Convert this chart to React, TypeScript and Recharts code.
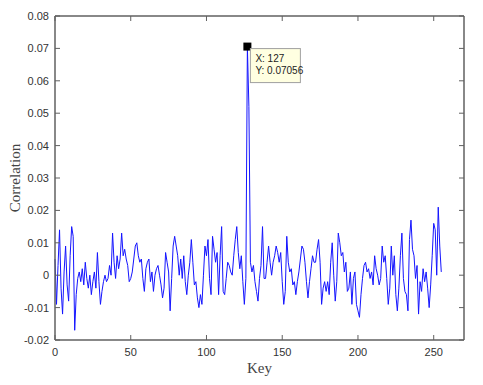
import { LineChart, Line, XAxis, YAxis, ReferenceDot } from "recharts";

// correlation for each key byte 0..255
const correlation = [
  0.005, -0.009, 0.003, 0.014, -0.004, -0.012, 0.001, 0.009, -0.003, -0.008, 0.006, 0.015, 0.012, -0.017, -0.006, -0.001,
  0.001, -0.002, 0.002, -0.003, 0.004, -0.001, -0.004, 0.0, -0.006, -0.002, 0.001, -0.004, 0.007, -0.002, -0.009, -0.005,
  -0.002, 0.0, -0.002, -0.001, 0.003, 0.0, 0.013, 0.004, -0.001, 0.006, 0.002, 0.005, 0.013, 0.006, 0.008, 0.005,
  0.003, -0.002, -0.001, 0.001, 0.005, 0.009, 0.01, 0.006, 0.004, 0.005, -0.001, -0.005, 0.002, 0.004, 0.005, -0.002,
  0.001, -0.005, 0.0, 0.002, 0.003, 0.0, -0.003, -0.007, -0.004, 0.007, 0.004, 0.001, -0.011, -0.001, 0.009, 0.012,
  0.009, 0.006, 0.0, 0.005, -0.001, 0.006, -0.002, -0.006, 0.0, 0.004, 0.011, 0.004, -0.003, -0.002, -0.007, -0.01,
  -0.006, -0.009, 0.0, 0.009, 0.006, 0.011, -0.001, -0.006, 0.012, 0.008, 0.004, 0.007, -0.006, 0.006, 0.015, -0.005,
  -0.006, -0.001, 0.004, 0.003, 0.001, 0.0, 0.006, 0.011, 0.015, 0.007, 0.002, 0.006, -0.002, -0.009, -0.001, 0.07056,
  0.052, 0.004, 0.001, 0.003, -0.002, -0.005, -0.008, -0.001, 0.003, 0.015, -0.001, -0.001, 0.004, 0.009, 0.004, 0.0,
  0.004, 0.006, 0.009, 0.007, 0.004, 0.007, -0.002, -0.009, -0.005, 0.012, 0.004, 0.001, 0.002, -0.003, -0.002, -0.006,
  -0.002, 0.001, 0.005, 0.009, 0.008, 0.004, -0.002, -0.007, -0.002, 0.002, 0.006, 0.004, 0.004, 0.008, 0.011, 0.004,
  -0.009, -0.004, -0.002, -0.005, -0.002, -0.006, 0.004, 0.01, 0.0, -0.008, -0.002, 0.013, 0.01, 0.006, 0.007, 0.001,
  0.004, -0.005, -0.004, 0.001, -0.009, -0.001, 0.001, -0.009, -0.011, -0.013, -0.006, -0.001, 0.003, 0.004, 0.001, 0.002,
  -0.001, 0.001, -0.003, 0.006, 0.002, 0.0, -0.003, -0.001, 0.009, 0.004, 0.006, -0.001, -0.009, -0.004, 0.009, 0.0,
  0.006, -0.006, -0.011, -0.004, 0.006, 0.013, -0.001, -0.005, -0.006, -0.011, 0.011, 0.017, 0.008, 0.006, -0.001, 0.003,
  -0.012, -0.002, -0.005, 0.002, -0.002, 0.001, -0.004, -0.01, -0.003, 0.006, 0.016, 0.014, 0.0, 0.021, 0.009, 0.001,
];

const keys = correlation.map((_, i) => i);

const xTicks = [0, 50, 100, 150, 200, 250];
const yTicks = [-0.02, -0.01, 0, 0.01, 0.02, 0.03, 0.04, 0.05, 0.06, 0.07, 0.08];

const peakKey = 127;
const peakValue = 0.07056;

const data = keys.map((k, i) => ({ key: k, value: correlation[i] }));

const axisColor = "#606060";
const sansFont = "Liberation Sans, Arial, sans-serif";
const labelFont = { fontSize: 15, fill: "#444", fontFamily: "Liberation Serif, Times New Roman, serif" };
const TICK = 5; // inward tick length
const GAP = 6;

const fmtY = (v: number) => (Math.abs(v) < 1e-9 ? "0" : v.toFixed(2));

// matlab style ticks: pointing into the plot, label outside
const LeftTick = (p: any) => {
  const ax = p.x + GAP;
  return (
    <g>
      <line x1={ax} x2={ax + TICK} y1={p.y} y2={p.y} stroke={axisColor} />
      <text x={p.x} y={p.y} dy={4} textAnchor="end" fontSize={11} fill="#333" fontFamily={sansFont}>
        {fmtY(p.payload.value)}
      </text>
    </g>
  );
};

const RightTick = (p: any) => {
  const ax = p.x - GAP;
  return <line x1={ax} x2={ax - TICK} y1={p.y} y2={p.y} stroke={axisColor} />;
};

const BottomTick = (p: any) => {
  const ay = p.y - GAP;
  return (
    <g>
      <line x1={p.x} x2={p.x} y1={ay} y2={ay - TICK} stroke={axisColor} />
      <text x={p.x} y={p.y} dy={10} textAnchor="middle" fontSize={11} fill="#333" fontFamily={sansFont}>
        {p.payload.value}
      </text>
    </g>
  );
};

const TopTick = (p: any) => {
  const ay = p.y + GAP;
  return <line x1={p.x} x2={p.x} y1={ay} y2={ay + TICK} stroke={axisColor} />;
};

// black datatip square + yellow box like matlab's data cursor
const DataTip = (props: any) => {
  const { cx, cy } = props;
  return (
    <g>
      <rect x={cx - 4} y={cy - 4} width={8} height={8} fill="#000" />
      <rect x={cx + 3} y={cy + 2} width={50} height={34} fill="#ffffe1" stroke="#a0a0a0" />
      <text x={cx + 8} y={cy + 15} fontSize={10} fill="#222" fontFamily={sansFont}>
        X: {peakKey}
      </text>
      <text x={cx + 8} y={cy + 27} fontSize={10} fill="#222" fontFamily={sansFont}>
        Y: {peakValue}
      </text>
    </g>
  );
};

export default function App() {
  return (
    <div style={{ position: "absolute", left: 0, top: 0, width: 483, height: 385, background: "#fff" }}>
      <LineChart width={483} height={385} data={data} margin={{ top: 15, right: 18, left: 0, bottom: 0 }}>
        <XAxis
          xAxisId="bottom"
          dataKey="key"
          type="number"
          domain={[0, 270]}
          ticks={xTicks}
          height={45}
          tick={<BottomTick />}
          tickSize={0}
          tickMargin={GAP}
          tickLine={false}
          axisLine={{ stroke: axisColor, strokeWidth: 1.5 }}
          label={{ value: "Key", position: "insideBottom", offset: 12, style: labelFont }}
        />
        <XAxis
          xAxisId="top"
          orientation="top"
          dataKey="key"
          type="number"
          domain={[0, 270]}
          ticks={xTicks}
          height={1}
          tick={<TopTick />}
          tickSize={0}
          tickMargin={GAP}
          tickLine={false}
          axisLine={{ stroke: axisColor, strokeWidth: 1.5 }}
        />
        <YAxis
          yAxisId="left"
          type="number"
          domain={[-0.02, 0.08]}
          ticks={yTicks}
          width={55}
          tick={<LeftTick />}
          tickSize={0}
          tickMargin={GAP}
          tickLine={false}
          axisLine={{ stroke: axisColor, strokeWidth: 1.5 }}
          label={{ value: "Correlation", angle: -90, position: "insideLeft", offset: 15, style: { ...labelFont, textAnchor: "middle" } }}
        />
        <YAxis
          yAxisId="right"
          orientation="right"
          type="number"
          domain={[-0.02, 0.08]}
          ticks={yTicks}
          width={1}
          tick={<RightTick />}
          tickSize={0}
          tickMargin={GAP}
          tickLine={false}
          axisLine={{ stroke: axisColor, strokeWidth: 1.5 }}
        />
        <Line
          xAxisId="bottom"
          yAxisId="left"
          type="linear"
          dataKey="value"
          stroke="#1414ff"
          strokeWidth={1}
          dot={false}
          isAnimationActive={false}
        />
        <Line
          xAxisId="top"
          yAxisId="right"
          type="linear"
          dataKey="value"
          stroke="none"
          dot={false}
          legendType="none"
          isAnimationActive={false}
        />
        <ReferenceDot xAxisId="bottom" yAxisId="left" x={peakKey} y={peakValue} shape={DataTip} />
      </LineChart>
    </div>
  );
}
